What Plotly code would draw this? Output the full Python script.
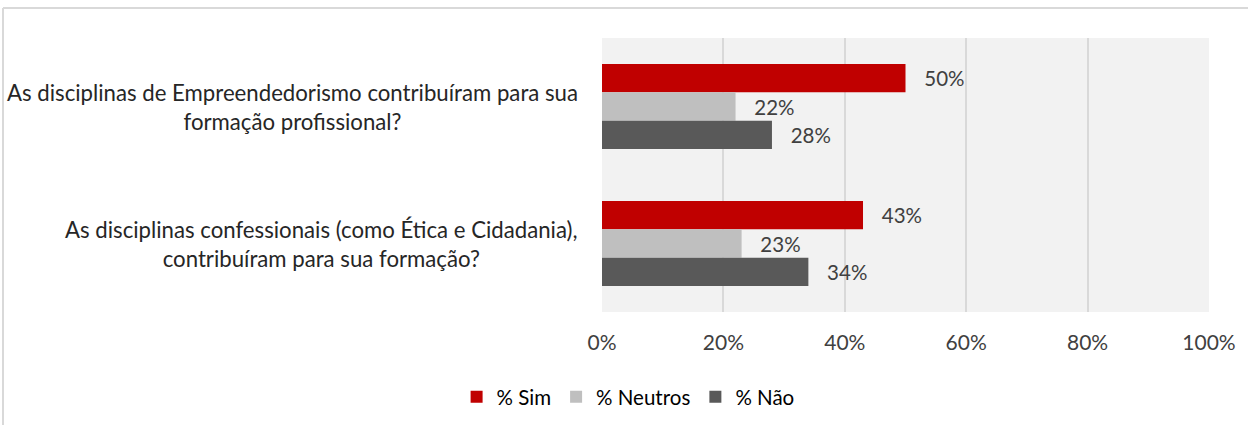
import plotly.graph_objects as go

categories = [
    "As disciplinas de Empreendedorismo contribuíram para sua<br>formação profissional?",
    "As disciplinas confessionais (como Ética e Cidadania),<br>contribuíram para sua formação?",
]
series_names = ["% Sim", "% Neutros", "% Não"]
sim = [0.50, 0.43]
neutros = [0.22, 0.23]
nao = [0.28, 0.34]
colors = ["#c00000", "#bfbfbf", "#595959"]
tick_vals = [0, 0.2, 0.4, 0.6, 0.8, 1.0]
tick_text = ["0%", "20%", "40%", "60%", "80%", "100%"]

FONT = "Lato, 'Open Sans', sans-serif"
W, H = 1248, 425
L, R, T, B = 602, 39, 38, 113

fig = go.Figure()
for name, vals, col in zip(series_names, [sim, neutros, nao], colors):
    fig.add_trace(go.Bar(
        y=categories, x=vals, name=name, orientation="h",
        marker=dict(color=col, line=dict(width=0)),
        text=["   " + f"{v:.0%}" for v in vals],
        textposition="outside", cliponaxis=False,
        textfont=dict(family=FONT, size=20.5, color="#404040"),
    ))

for c in categories:
    fig.add_annotation(
        x=-0.036, y=c, xref="paper", yref="y", text=c,
        xanchor="right", yanchor="middle", align="center",
        showarrow=False, font=dict(family=FONT, size=22.2, color="#262626"),
    )

pw, ph = W - L - R, H - T - B
bx0 = (3 - L) / pw
bx1 = (W + 20 - L) / pw
by_top = (H - B - 8) / ph
by_bot = (H - B - (H + 20)) / ph
# top and left edges of the chart frame
fig.add_shape(type="line", xref="paper", yref="paper", x0=bx0, x1=bx1, y0=by_top, y1=by_top,
              line=dict(color="#d9d9d9", width=2), layer="below")
fig.add_shape(type="line", xref="paper", yref="paper", x0=bx0, x1=bx0, y0=by_bot, y1=by_top,
              line=dict(color="#d9d9d9", width=2), layer="below")

fig.update_layout(
    width=W, height=H,
    margin=dict(l=L, r=R, t=T, b=B, pad=0, autoexpand=False),
    paper_bgcolor="white", plot_bgcolor="#f2f2f2",
    barmode="group", bargap=0.38, bargroupgap=0,
    showlegend=True,
    legend=dict(orientation="h", x=0.043, xanchor="center",
                yref="container", y=(H - 397) / H, yanchor="middle",
                font=dict(family=FONT, size=20.5, color="#000000"),
                itemwidth=30, traceorder="normal"),
    xaxis=dict(range=[0, 1], tickvals=tick_vals, ticktext=tick_text,
               showgrid=True, gridcolor="#d9d9d9", gridwidth=2, zeroline=False,
               showline=False, ticks="", ticklabelstandoff=16,
               tickfont=dict(family=FONT, size=21, color="#404040")),
    yaxis=dict(autorange="reversed", showticklabels=False, showgrid=False,
               zeroline=False, showline=False, ticks=""),
)

fig.write_html("out.html", config={"displayModeBar": False},
               post_script="document.body.style.margin='0';")
